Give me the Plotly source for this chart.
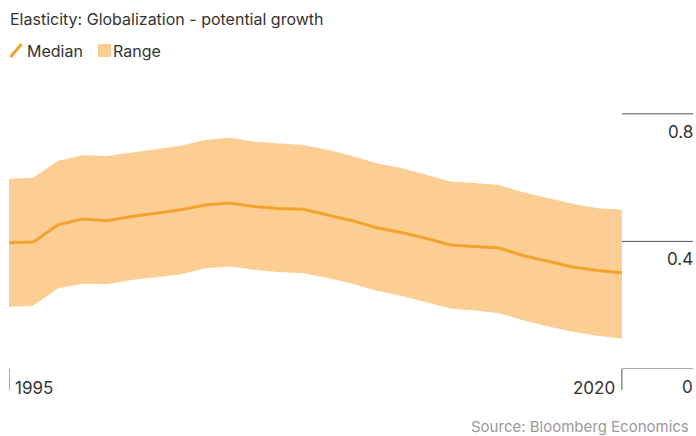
import plotly.graph_objects as go

years = list(range(1995, 2021))
median = [0.396, 0.398, 0.452, 0.470, 0.465, 0.478, 0.488, 0.499, 0.514, 0.520,
          0.509, 0.503, 0.501, 0.483, 0.465, 0.443, 0.428, 0.410, 0.389, 0.384,
          0.379, 0.355, 0.337, 0.320, 0.309, 0.302]
upper = [0.596, 0.600, 0.653, 0.670, 0.668, 0.679, 0.689, 0.700, 0.718, 0.725,
         0.712, 0.706, 0.702, 0.687, 0.668, 0.645, 0.630, 0.609, 0.588, 0.583,
         0.577, 0.553, 0.536, 0.518, 0.504, 0.499]
lower = [0.194, 0.199, 0.253, 0.267, 0.266, 0.279, 0.288, 0.296, 0.316, 0.321,
         0.311, 0.304, 0.300, 0.285, 0.267, 0.245, 0.230, 0.211, 0.190, 0.183,
         0.175, 0.152, 0.133, 0.117, 0.104, 0.096]
y_ticks = [0, 0.4, 0.8]
y_tick_labels = ["0", "0.4", "0.8"]
x_ticks = [1995, 2020]

FONT = "Inter, Roboto, sans-serif"
TEXT = "#333333"
AXIS = "#555555"
FILL = "#FCCE94"
LINE = "#F5A22A"
X_MAX = 2022.9

W, H = 696, 436
ML, MR, MT, MB = 9, 3, 50, 67
H_PLOT = H - MT - MB
W_PLOT = W - ML - MR


def px(x):
    return (x - ML) / W_PLOT


def py(y):
    return (H - MB - y) / H_PLOT


fig = go.Figure()
fig.add_trace(go.Scatter(x=years, y=lower, mode="lines", line=dict(width=0),
                         showlegend=False, hoverinfo="skip"))
fig.add_trace(go.Scatter(x=years, y=upper, mode="lines", line=dict(width=0),
                         fill="tonexty", fillcolor=FILL, name="Range",
                         showlegend=False))
fig.add_trace(go.Scatter(x=years, y=median, mode="lines",
                         line=dict(color=LINE, width=3), name="Median",
                         showlegend=False))

# right-side gridlines with labels underneath
for v, lab in zip(y_ticks, y_tick_labels):
    fig.add_shape(type="line", xref="x", yref="y", x0=x_ticks[-1], x1=X_MAX,
                  y0=v, y1=v, line=dict(color=AXIS, width=1))
    fig.add_annotation(x=1, xref="paper", y=v, yref="y", text=f"<span>{lab}</span>",
                       xanchor="right", yanchor="top", xshift=2, yshift=-6,
                       showarrow=False,
                       font=dict(family=FONT, size=17, color=TEXT))

# year ticks: short vertical markers below the baseline
for i, yr in enumerate(x_ticks):
    fig.add_shape(type="line", xref="x", yref="paper", x0=yr, x1=yr,
                  y0=0, y1=-0.066, line=dict(color=AXIS, width=1))
    first = i == 0
    fig.add_annotation(x=yr, xref="x", y=0, yref="y", text=str(yr),
                       xanchor="left" if first else "right", yanchor="top",
                       xshift=4 if first else -5, yshift=-7,
                       showarrow=False, font=dict(family=FONT, size=17, color=TEXT))

# title
fig.add_annotation(x=px(8), y=py(19), xref="paper", yref="paper",
                   text="Elasticity: Globalization - potential growth",
                   xanchor="left", yanchor="middle", showarrow=False,
                   font=dict(family=FONT, size=16, color=TEXT))

# legend
fig.add_shape(type="line", xref="paper", yref="paper",
              x0=px(10.5), y0=py(57), x1=px(21.5), y1=py(44),
              line=dict(color=LINE, width=3))
fig.add_annotation(x=px(25), y=py(51), xref="paper", yref="paper", text="Median",
                   xanchor="left", yanchor="middle", showarrow=False,
                   font=dict(family=FONT, size=16, color=TEXT))
fig.add_shape(type="rect", xref="paper", yref="paper",
              x0=px(98), y0=py(57), x1=px(111), y1=py(44),
              fillcolor=FILL, line=dict(width=0))
fig.add_annotation(x=px(111), y=py(51), xref="paper", yref="paper", text="Range",
                   xanchor="left", yanchor="middle", showarrow=False,
                   font=dict(family=FONT, size=16, color=TEXT))

# source note
fig.add_annotation(x=1, y=py(426), xref="paper", yref="paper",
                   text="Source: Bloomberg Economics", xshift=-2,
                   xanchor="right", yanchor="middle", showarrow=False,
                   font=dict(family=FONT, size=15, color="#9a9a9a"))

fig.update_layout(
    width=W, height=H,
    margin=dict(l=ML, r=MR, t=MT, b=MB),
    paper_bgcolor="white", plot_bgcolor="white",
    xaxis=dict(visible=False, range=[1995, X_MAX], fixedrange=True),
    yaxis=dict(visible=False, range=[0, 1.0], fixedrange=True),
    showlegend=False,
)

fig.write_html("out.html")
